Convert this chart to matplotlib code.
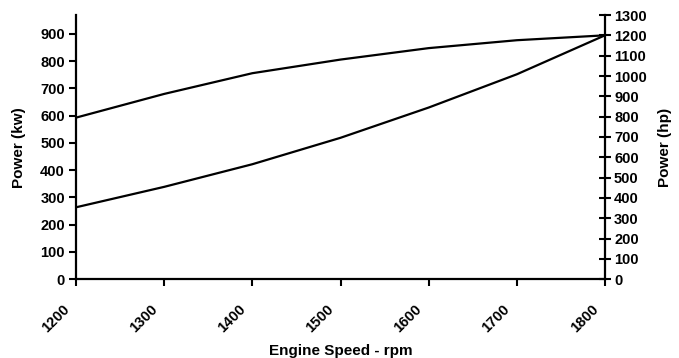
import numpy as np
import matplotlib.pyplot as plt
from matplotlib.transforms import ScaledTranslation

plt.rcParams["font.family"] = ["Liberation Sans", "DejaVu Sans"]
plt.rcParams["font.weight"] = "bold"

# engine speed (rpm)
rpm = [1200, 1300, 1400, 1500, 1600, 1700, 1800]
# max power curve (kW)
power_max = [593, 680, 756, 806, 848, 877, 895]
# propeller curve (kW)
power_prop = [264, 339, 422, 519, 630, 752, 895]

kw_ticks = list(range(0, 1000, 100))
hp_ticks = list(range(0, 1400, 100))
hp_max = 1300
kw_per_hp = 0.7457

fig = plt.figure(figsize=(6.79, 3.58), dpi=100)
ax = fig.add_axes([0.112, 0.22, 0.779, 0.738])

ax.plot(rpm, power_max, color="black", lw=1.6)
ax.plot(rpm, power_prop, color="black", lw=1.6)

ax.set_xlim(1200, 1800)
ax.set_ylim(0, hp_max * kw_per_hp)
ax.set_xticks(rpm)
ax.set_yticks(kw_ticks)
ax.tick_params(axis="both", direction="out", length=5, width=1.5,
               labelsize=10.5, pad=3)

# shift rotated x labels down-left like the original
offset = ScaledTranslation(-0.09, -0.17, fig.dpi_scale_trans)
for lab in ax.get_xticklabels():
    lab.set_rotation(45)
    lab.set_ha("right")
    lab.set_va("center")
    lab.set_rotation_mode("anchor")
    lab.set_fontweight("bold")
    lab.set_transform(lab.get_transform() + offset)
for lab in ax.get_yticklabels():
    lab.set_fontweight("bold")

ax.spines["top"].set_visible(False)
ax.spines["right"].set_visible(False)
ax.spines["left"].set_linewidth(1.6)
ax.spines["bottom"].set_linewidth(1.6)

ax.set_xlabel("Engine Speed - rpm", fontsize=11, fontweight="bold", labelpad=6)
ax.set_ylabel("Power (kw)", fontsize=11, fontweight="bold", labelpad=10)

ax2 = ax.twinx()
ax2.set_ylim(0, hp_max)
ax2.set_yticks(hp_ticks)
ax2.tick_params(axis="y", direction="inout", length=9, width=1.5,
                labelsize=10.5, pad=2)
for lab in ax2.get_yticklabels():
    lab.set_fontweight("bold")
ax2.spines["top"].set_visible(False)
ax2.spines["left"].set_visible(False)
ax2.spines["bottom"].set_visible(False)
ax2.spines["right"].set_linewidth(1.6)
ax2.set_ylabel("Power (hp)", fontsize=11, fontweight="bold", labelpad=8)

fig.savefig("out.png", dpi=100)
